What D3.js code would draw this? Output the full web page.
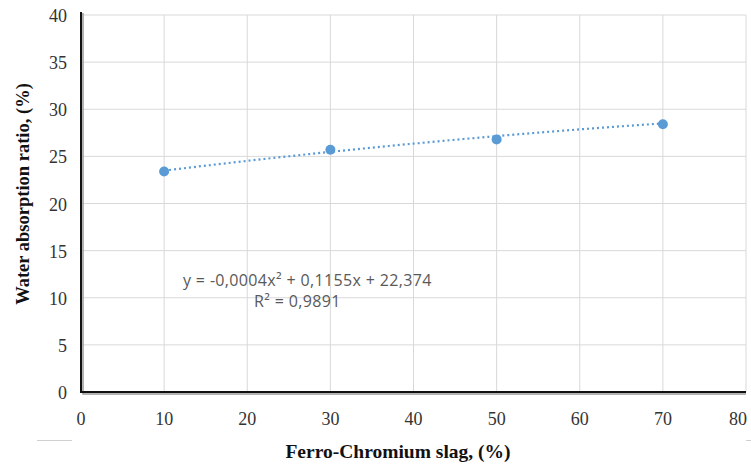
<!DOCTYPE html>
<html>
<head>
<meta charset="utf-8">
<script src="https://cdn.jsdelivr.net/npm/d3@7"></script>
<style>
  body { margin: 0; background: #fff; }
  svg { display: block; }
</style>
</head>
<body>
<div id="chart"></div>
<script>
// data
var slag = [10, 30, 50, 70];                 // Ferro-Chromium slag, %
var absorption = [23.4, 25.7, 26.8, 28.4];   // Water absorption ratio, %
var xTicks = [0, 10, 20, 30, 40, 50, 60, 70, 80];
var yTicks = [0, 5, 10, 15, 20, 25, 30, 35, 40];
var trendCoef = [-0.0004, 0.1155, 22.374];   // poly trendline shown on chart: a, b, c
var eqText = "y = -0,0004x\u00B2 + 0,1155x + 22,374";
var r2Text = "R\u00B2 = 0,9891";

var W = 751, H = 468;
var svg = d3.select("#chart").append("svg")
  .attr("width", W).attr("height", H);

var x = d3.scaleLinear().domain([0, 80]).range([81, 746]);
var y = d3.scaleLinear().domain([0, 40]).range([392, 15]);

var serif = "'Liberation Serif', 'Times New Roman', serif";
var sans = "'Open Sans', 'Liberation Sans', sans-serif";
var blue = "#5B9BD5";

// gridlines
svg.append("g").selectAll("line")
  .data(xTicks.slice(1))
  .enter().append("line")
  .attr("x1", function(d) { return x(d); })
  .attr("x2", function(d) { return x(d); })
  .attr("y1", y(40)).attr("y2", y(0))
  .attr("stroke", "#d9d9d9").attr("stroke-width", 1);

svg.append("g").selectAll("line")
  .data(yTicks.slice(1))
  .enter().append("line")
  .attr("x1", x(0)).attr("x2", x(80))
  .attr("y1", function(d) { return y(d); })
  .attr("y2", function(d) { return y(d); })
  .attr("stroke", "#d9d9d9").attr("stroke-width", 1);

// axis lines with soft shadow
svg.append("path")
  .attr("d", "M" + (x(0) + 2) + "," + (y(40) - 2) + "V" + (y(0) + 2) + "H" + x(80))
  .attr("fill", "none").attr("stroke", "#9a9a9a").attr("stroke-width", 1.5);
svg.append("path")
  .attr("d", "M" + x(0) + "," + (y(40) - 3) + "V" + y(0) + "H" + x(80))
  .attr("fill", "none").attr("stroke", "#111").attr("stroke-width", 2);

// tick labels
svg.append("g").selectAll("text")
  .data(yTicks)
  .enter().append("text")
  .attr("x", 67)
  .attr("y", function(d) { return y(d) + 7; })
  .attr("text-anchor", "end")
  .style("font-family", serif).style("font-size", "18px").style("fill", "#333")
  .text(function(d) { return d; });

svg.append("g").selectAll("text")
  .data(xTicks)
  .enter().append("text")
  .attr("x", function(d) { return Math.min(x(d), 738); })
  .attr("y", 425)
  .attr("text-anchor", "middle")
  .style("font-family", serif).style("font-size", "18px").style("fill", "#333")
  .text(function(d) { return d; });

// axis titles
svg.append("text")
  .attr("transform", "translate(29,194) rotate(-90)")
  .attr("text-anchor", "middle")
  .style("font-family", serif).style("font-size", "18.5px").style("font-weight", "bold").style("fill", "#111")
  .text("Water absorption ratio, (%)");

svg.append("text")
  .attr("x", 398).attr("y", 458)
  .attr("text-anchor", "middle")
  .style("font-family", serif).style("font-size", "19.5px").style("font-weight", "bold").style("fill", "#111")
  .text("Ferro-Chromium slag, (%)");

// trendline from the displayed polynomial
var trendX = d3.range(slag[0], slag[slag.length - 1] + 0.5, 1);
var line = d3.line()
  .x(function(d) { return x(d); })
  .y(function(d) { return y(trendCoef[0] * d * d + trendCoef[1] * d + trendCoef[2]); });
svg.append("path")
  .datum(trendX)
  .attr("d", line)
  .attr("fill", "none").attr("stroke", blue)
  .attr("stroke-width", 2.2).attr("stroke-dasharray", "2,3");

// points
svg.append("g").selectAll("circle")
  .data(slag)
  .enter().append("circle")
  .attr("cx", function(d) { return x(d); })
  .attr("cy", function(d, i) { return y(absorption[i]); })
  .attr("r", 5)
  .attr("fill", blue);

// equation
svg.append("text")
  .attr("x", 183).attr("y", 286)
  .style("font-family", sans).style("font-size", "16px").style("letter-spacing", "0.35px").style("fill", "#595959")
  .text(eqText);
svg.append("text")
  .attr("x", 254).attr("y", 307)
  .style("font-family", sans).style("font-size", "16px").style("letter-spacing", "0.35px").style("fill", "#595959")
  .text(r2Text);

// stray border fragments at the bottom
svg.append("line").attr("x1", 37).attr("x2", 72).attr("y1", 440.5).attr("y2", 440.5)
  .attr("stroke", "#d0d0d0").attr("stroke-width", 1);
svg.append("line").attr("x1", 746).attr("x2", 751).attr("y1", 440.5).attr("y2", 440.5)
  .attr("stroke", "#d0d0d0").attr("stroke-width", 1);
</script>
</body>
</html>
